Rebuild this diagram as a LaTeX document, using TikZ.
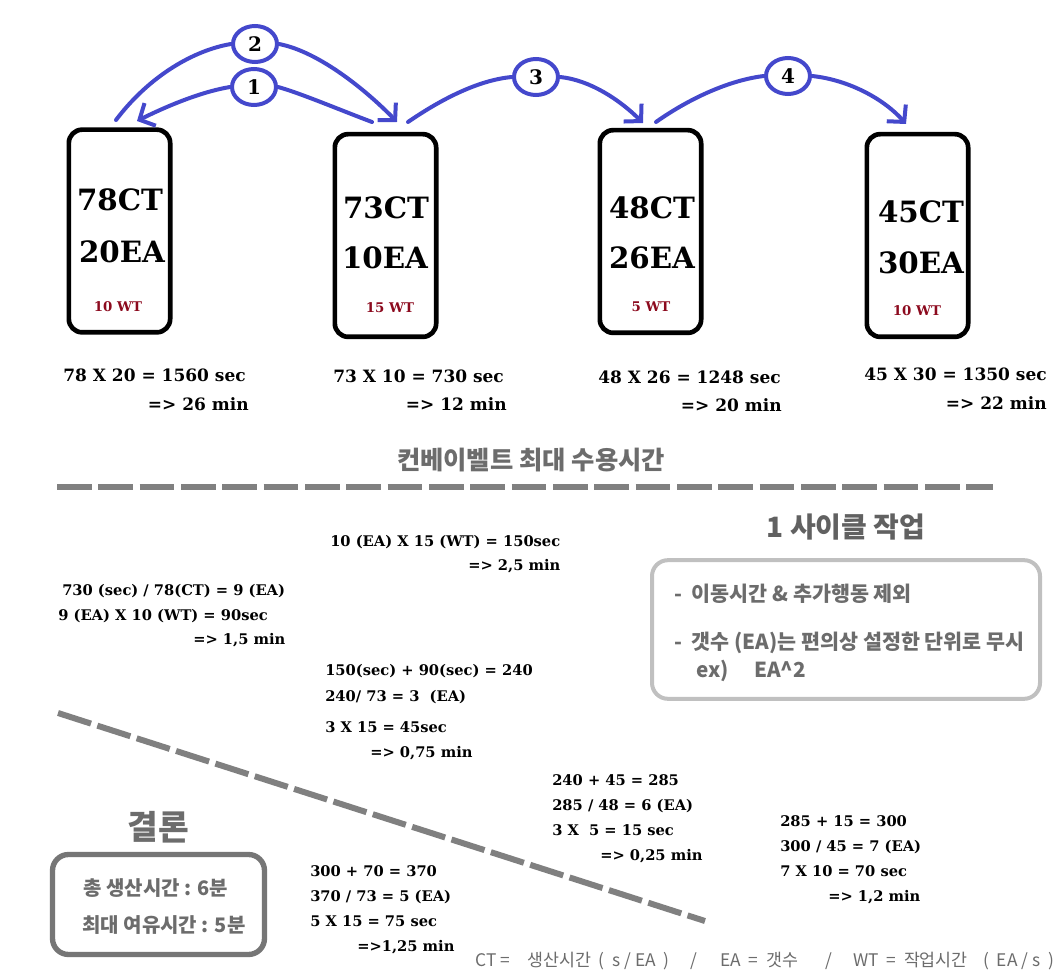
\documentclass[tikz,border=0pt]{standalone}
\usepackage{fontspec}
\setmainfont{DejaVu Serif}
\newfontfamily\kr{Noto Sans CJK KR}
\usetikzlibrary{shapes.geometric,arrows.meta}
\definecolor{arrowblue}{RGB}{68,72,204}
\definecolor{wtred}{RGB}{140,10,30}
\definecolor{krgray}{RGB}{108,108,108}
\definecolor{dashgray}{RGB}{128,128,128}
\definecolor{lightbox}{RGB}{192,192,192}
\definecolor{darkbox}{RGB}{118,118,118}
\tikzset{
  stbox/.style={draw=black, line width=3.5pt, rounded corners=10pt, minimum width=76pt, minimum height=152pt, inner sep=0pt},
  bignum/.style={font=\fontsize{22}{26}\selectfont\bfseries, inner sep=0pt},
  wt/.style={font=\fontsize{10}{12}\selectfont\bfseries, text=wtred, inner sep=0pt},
  numcirc/.style={ellipse, draw=arrowblue, line width=3pt, minimum width=33pt, minimum height=27pt, inner sep=0pt, font=\fontsize{15}{18}\selectfont\bfseries},
  flow/.style={draw=arrowblue, line width=3pt, line cap=round},
  flowarr/.style={flow, -{Straight Barb[length=9pt,width=19pt]}},
  calctop/.style={font=\fontsize{12.75}{15}\selectfont\bfseries, inner sep=0pt},
  calc/.style={font=\fontsize{11}{13}\selectfont\bfseries, inner sep=0pt, anchor=base west},
  krtitle/.style={font=\kr\fontsize{19}{22}\selectfont\bfseries, text=krgray, inner sep=0pt},
  krtext/.style={font=\kr\fontsize{15.5}{18}\selectfont\bfseries, text=krgray, inner sep=0pt, anchor=west},
  krres/.style={font=\kr\fontsize{15}{18}\selectfont\bfseries, text=krgray, inner sep=0pt, anchor=west},
  legend/.style={font=\kr\fontsize{13}{15}\selectfont, text=krgray, inner sep=0pt, anchor=base west},
  dashline/.style={draw=dashgray, line width=4.5pt, dash pattern=on 26pt off 5pt, line cap=butt}
}
\begin{document}
\begin{tikzpicture}[x=0.75pt,y=-0.75pt]
\fill[white] (0,0) rectangle (1064,980);
\useasboundingbox (0,0) rectangle (1064,980);

% station boxes
\node[stbox] (b1) at (119.5,231) {};
\node[stbox] (b2) at (385.5,235.5) {};
\node[stbox] (b3) at (650.5,231.5) {};
\node[stbox] (b4) at (917.5,235.5) {};

\node[bignum] (b1ct) at (120,200) {78CT};
\node[bignum] (b1ea) at (122,252) {20EA};
\node[wt] (b1wt) at (118,307) {10 WT};
\node[bignum] (b2ct) at (386,208) {73CT};
\node[bignum] (b2ea) at (385,258) {10EA};
\node[wt] (b2wt) at (390,308) {15 WT};
\node[bignum] (b3ct) at (652,208) {48CT};
\node[bignum] (b3ea) at (652,258) {26EA};
\node[wt] (b3wt) at (651,307) {5 WT};
\node[bignum] (b4ct) at (921,212) {45CT};
\node[bignum] (b4ea) at (921,263) {30EA};
\node[wt] (b4wt) at (917,311) {10 WT};

% numbered circles
\node[numcirc] (c1) at (254,87) {1};
\node[numcirc] (c2) at (255,44) {2};
\node[numcirc] (c3) at (536,77) {3};
\node[numcirc] (c4) at (788,76) {4};

% connector ends
\coordinate (s1) at (372,122);
\coordinate (t1) at (137,121);
\coordinate (s2) at (116,120);
\coordinate (t2) at (397,122);
\coordinate (s3) at (408,122);
\coordinate (t3) at (643,123);
\coordinate (s4) at (656,122);
\coordinate (t4) at (906,124);

% arrow 1 : box2 -> box1
\draw[flow] (s1) .. controls (340,110) and (300,93) .. (c1.east);
\draw[flowarr] (c1.west) .. controls (200,92) and (165,107) .. (t1);
% arrow 2 : box1 -> box2
\draw[flow] (s2) .. controls (150,75) and (195,50) .. (c2.west);
\draw[flowarr] (c2.east) .. controls (320,52) and (368,92) .. (t2);
% arrow 3 : box2 -> box3
\draw[flow] (s3) .. controls (440,100) and (478,80) .. (c3.west);
\draw[flowarr] (c3.east) .. controls (590,80) and (620,100) .. (t3);
% arrow 4 : box3 -> box4
\draw[flow] (s4) .. controls (690,98) and (730,80) .. (c4.west);
\draw[flowarr] (c4.east) .. controls (850,80) and (885,100) .. (t4);

% capacity calculations
\node[calctop, anchor=base west] (k1a) at (63,382) {78 X 20 = 1560 sec};
\node[calctop, anchor=base east] (k1b) at (249,411) {=> 26 min};
\node[calctop, anchor=base west] (k2a) at (333,383) {73 X 10 = 730 sec};
\node[calctop, anchor=base east] (k2b) at (507,411) {=> 12 min};
\node[calctop, anchor=base west] (k3a) at (598,384) {48 X 26 = 1248 sec};
\node[calctop, anchor=base east] (k3b) at (782,412) {=> 20 min};
\node[calctop, anchor=base west] (k4a) at (864,381) {45 X 30 = 1350 sec};
\node[calctop, anchor=base east] (k4b) at (1047,410) {=> 22 min};

\node[krtitle] (ttl) at (531,460) {컨베이벨트 최대 수용시간};
\draw[dashline] (57,487) -- (993,487);

% cycle calculations
\node[calc] (q1) at (330,546) {10 (EA) X 15 (WT) = 150sec};
\node[calc] (q2) at (468,570) {=> 2,5 min};
\node[calc] (q3) at (62,595) {730 (sec) / 78(CT) = 9 (EA)};
\node[calc] (q4) at (58,620) {9 (EA) X 10 (WT) = 90sec};
\node[calc] (q5) at (193,644) {=> 1,5 min};
\node[calc] (q6) at (325,675) {150(sec) + 90(sec) = 240};
\node[calc] (q7) at (325,701) {240/ 73 = 3\ \ (EA)};
\node[calc] (q8) at (325,732) {3 X 15 = 45sec};
\node[calc] (q9) at (370,757) {=> 0,75 min};
\node[calc] (q10) at (552,785) {240 + 45 = 285};
\node[calc] (q11) at (552,810) {285 / 48 = 6 (EA)};
\node[calc] (q12) at (552,835) {3 X\ \ 5 = 15 sec};
\node[calc] (q13) at (600,860) {=> 0,25 min};
\node[calc] (q14) at (780,826) {285 + 15 = 300};
\node[calc] (q15) at (780,851) {300 / 45 = 7 (EA)};
\node[calc] (q16) at (780,876) {7 X 10 = 70 sec};
\node[calc] (q17) at (828,901) {=> 1,2 min};
\node[calc] (q18) at (310,876) {300 + 70 = 370};
\node[calc] (q19) at (310,901) {370 / 73 = 5 (EA)};
\node[calc] (q20) at (310,926) {5 X 15 = 75 sec};
\node[calc] (q21) at (357,951) {=>1,25 min};

% one-cycle note
\node[font=\kr\fontsize{21}{24}\selectfont\bfseries, text=krgray!90!black, inner sep=0pt] (cyc) at (846,527) {1 사이클 작업};
\node[draw=lightbox, line width=3pt, rounded corners=12pt, minimum width=291pt, minimum height=104pt, inner sep=0pt] (note) at (846,629.5) {};
\node[krtext] (n1) at (674,594) {-\ \ 이동시간 \& 추가행동 제외};
\node[krtext] (n2) at (674,643) {-\ \ 갯수 (EA)는 편의상 설정한 단위로 무시};
\node[krtext] (n3) at (696,671) {ex)\quad\ EA\^{}2};

% divider
\draw[dashline] (58,713) -- (705,921);

% conclusion
\node[font=\kr\fontsize{25}{28}\selectfont\bfseries, text=krgray, inner sep=0pt] (conc) at (158,827) {결론};
\node[draw=darkbox, line width=4pt, rounded corners=12pt, minimum width=159pt, minimum height=75pt, inner sep=0pt] (cbox) at (158.5,904.5) {};
\node[krres] (r1) at (83,888) {총 생산시간 : 6분};
\node[krres] (r2) at (82,925) {최대 여유시간 : 5분};

% legend
\node[legend] (lg1) at (475,966) {CT =};
\node[legend] (lg2) at (527,966) {생산시간\ \ (\ \ s / EA\ \ )};
\node[legend] (lg3) at (690,966) {/};
\node[legend] (lg4) at (720,966) {EA\ \ =\ \ 갯수};
\node[legend] (lg5) at (825,966) {/};
\node[legend] (lg6) at (853,966) {WT\ \ =\ \ 작업시간};
\node[legend] (lg7) at (983,966) {(\ \ EA / s\ \ )};
\end{tikzpicture}
\end{document}
